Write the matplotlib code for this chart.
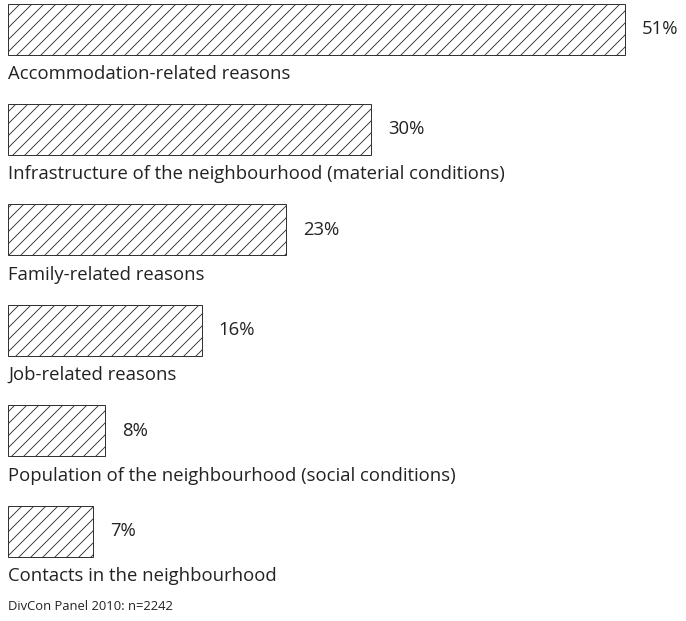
import matplotlib
matplotlib.use('Agg')
import matplotlib.pyplot as plt

# data
reasons = [
    'Accommodation-related reasons',
    'Infrastructure of the neighbourhood (material conditions)',
    'Family-related reasons',
    'Job-related reasons',
    'Population of the neighbourhood (social conditions)',
    'Contacts in the neighbourhood',
]
shares = [51, 30, 23, 16, 8, 7]
source_note = 'DivCon Panel 2010: n=2242'

plt.rcParams['font.family'] = ['Open Sans', 'DejaVu Sans']
plt.rcParams['hatch.linewidth'] = 0.9
plt.rcParams['hatch.color'] = '#333333'

W, H, DPI = 686, 621, 72
fig = plt.figure(figsize=(W / DPI, H / DPI), dpi=DPI)
ax = fig.add_axes([0, 0, 1, 1])

px_per_pct = 12.1
left_px = 8
ax.set_xlim(-left_px / px_per_pct, (W - left_px) / px_per_pct)
ax.set_ylim(H, 0)  # y in pixel rows, top down
ax.axis('off')

step = 100.4
first_center = 29
bar_h = 51
for i, (name, val) in enumerate(zip(reasons, shares)):
    yc = first_center + i * step
    ax.barh(yc, val, height=bar_h, left=0, color='white', edgecolor='#333333',
            linewidth=1.0, hatch='//')
    ax.text(val + 1.4, yc, f'{val}%', va='center', ha='left', fontsize=18.5, color='#222222')
    ax.text(0, yc + 45, name, va='center', ha='left', fontsize=18.5, color='#222222')

ax.text(0, 606, source_note, va='center', ha='left', fontsize=13, color='#222222')

fig.savefig('out.png', dpi=DPI)
